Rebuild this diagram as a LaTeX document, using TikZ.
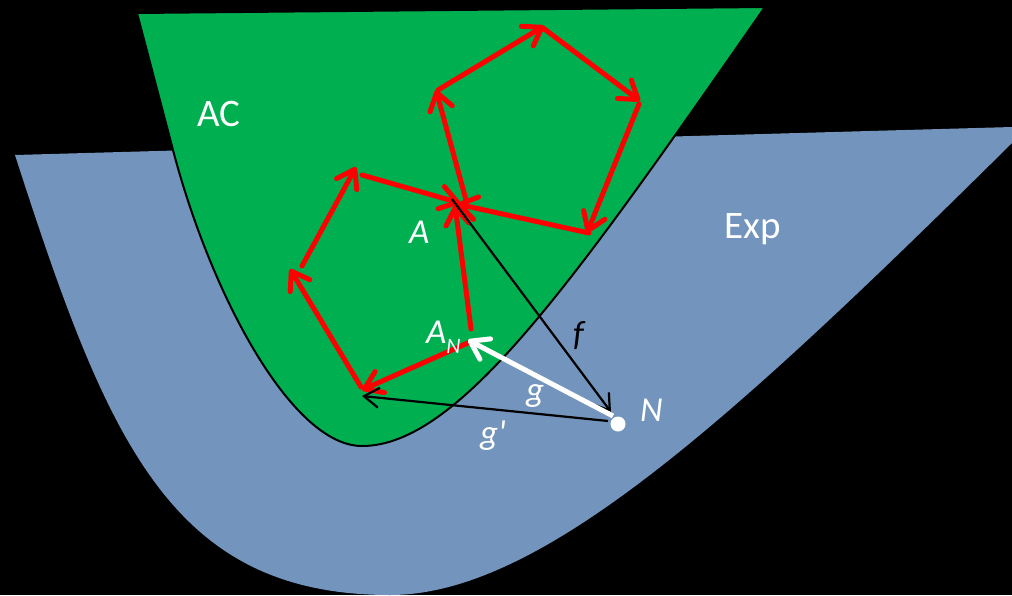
\documentclass[tikz,border=0pt]{standalone}
\usepackage{fontspec}
\setmainfont{Carlito}
\newfontfamily\prfont{Carlito}[Ligatures=TeXOff]
\usetikzlibrary{arrows.meta}
\definecolor{acgreen}{RGB}{0,176,80}
\definecolor{expblue}{RGB}{114,148,189}
\begin{document}
\begin{tikzpicture}[x=1pt,y=-1pt,
  redarrow/.style={draw=red, line width=5pt, line cap=round, -{Straight Barb[length=17pt,width=23pt,round]}},
  blackarrow/.style={draw=black, line width=2.2pt, -{Straight Barb[length=15pt,width=20pt]}},
  whitearrow/.style={draw=white, line width=5pt, -{Straight Barb[length=17pt,width=23pt,round]}},
  lbl/.style={inner sep=0, anchor=base west, text=white, font=\fontsize{39}{40}\selectfont},
  ilbl/.style={inner sep=0, anchor=base west, text=white, font=\fontsize{35}{36}\selectfont\itshape},
]
\fill[black] (0,0) rectangle (1012,595);
\useasboundingbox (0,0) rectangle (1012,595);

% Exp region
\fill[expblue] (15,155) -- (1012,127) -- (1012,143)
  .. controls (728,424) and (540,595) .. (390,595)
  .. controls (170,595) and (107,440) .. (15,155) -- cycle;

% AC region
\filldraw[fill=acgreen, draw=black, line width=2pt] (137,13) -- (765,7)
  .. controls (576,278) and (460,446) .. (362,446)
  .. controls (292,446) and (211,295) .. (173,150) -- cycle;

% coordinates of the loops
\coordinate (ua) at (466,200);
\coordinate (utl) at (436,90);
\coordinate (utls) at (438,90);
\coordinate (ut) at (544,26);
\coordinate (uts) at (543,28);
\coordinate (ur) at (640,101);
\coordinate (urs) at (639,104);
\coordinate (ubr) at (587,233);
\coordinate (ubrs) at (589,233);
\coordinate (ua2) at (457,204);

\coordinate (an1) at (471,329);
\coordinate (an2) at (470,342);
\coordinate (aup) at (455,205);
\coordinate (lbl) at (362,390);
\coordinate (lbls) at (361,387);
\coordinate (ll) at (290,269);
\coordinate (lls) at (302,266);
\coordinate (lul) at (356,167);
\coordinate (luls) at (362,175);
\coordinate (la) at (460,203);

% upper loop
\draw[redarrow] (ua) -- (utl);
\draw[redarrow] (utls) -- (ut);
\draw[redarrow] (uts) -- (ur);
\draw[redarrow] (urs) -- (ubr);
\draw[redarrow] (ubrs) -- (ua2);

% lower paths
\draw[redarrow] (an1) -- (aup);
\draw[redarrow] (an2) -- (lbl);
\draw[redarrow] (lbls) -- (ll);
\draw[redarrow] (lls) -- (lul);
\draw[redarrow] (luls) -- (la);

% maps
\coordinate (fs) at (452,199);
\coordinate (fe) at (611,412);
\coordinate (gps) at (608,421);
\coordinate (gpe) at (362,396);
\coordinate (gs) at (613,416);
\coordinate (ge) at (468,340);
\draw[blackarrow] (fs) -- (fe);
\draw[blackarrow] (gps) -- (gpe);
\draw[whitearrow] (gs) -- (ge);
\node[circle, fill=white, inner sep=0, minimum size=15pt] (ndot) at (618,424) {};

% labels
\node[lbl] (ac) at (197,126) {AC};
\node[lbl] (exp) at (724,238) {Exp};
\node[ilbl] (alab) at (409,243) {A};
\node[ilbl] (anlab) at (426,343) {A\raisebox{-10pt}{\fontsize{22}{22}\selectfont N}};
\node[ilbl, text=black] (flab) at (573,345) {f};
\node[ilbl] (glab) at (526,401) {g};
\node[ilbl] (gplab) at (480,444) {\prfont\itshape g'};
\node[ilbl] (nlab) at (640,421) {N};
\end{tikzpicture}
\end{document}
